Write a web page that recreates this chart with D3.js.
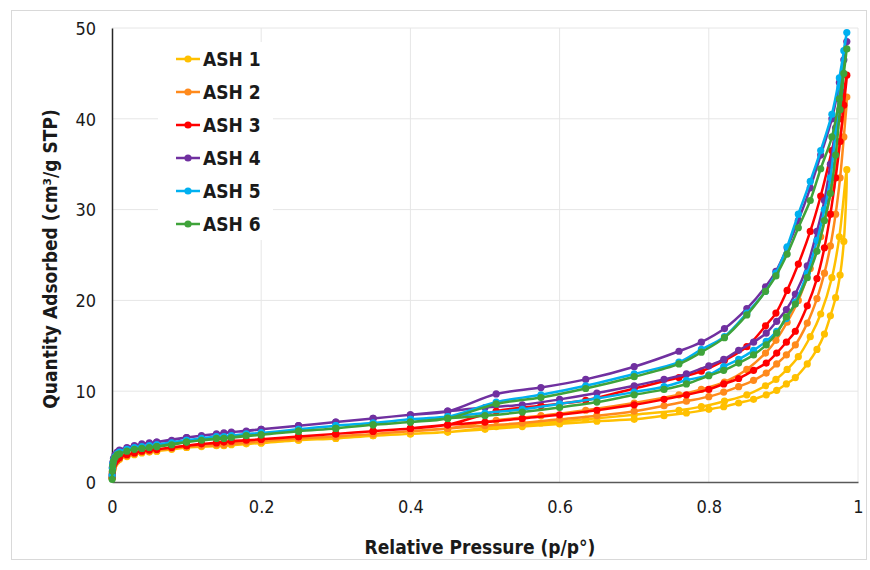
<!DOCTYPE html>
<html>
<head>
<meta charset="utf-8">
<script src="https://cdn.jsdelivr.net/npm/d3@7/dist/d3.min.js"></script>
<style>
  html, body { margin: 0; padding: 0; background: #fff; }
  svg { display: block; }
  text { font-family: "DejaVu Sans Condensed", "Open Sans", sans-serif; }
</style>
</head>
<body>
<svg id="chart" width="870" height="570"></svg>
<script>
// Series names and colours
const seriesNames = ["ASH 1", "ASH 2", "ASH 3", "ASH 4", "ASH 5", "ASH 6"];
const seriesColors = ["#FFC000", "#FF8A1C", "#FF0000", "#7030A0", "#00B0F0", "#3FA33A"];

// Relative pressures of the adsorption branch
const pAds = [0.0002, 0.0005, 0.001, 0.002, 0.004, 0.007, 0.01, 0.02, 0.03, 0.04, 0.05, 0.06, 0.08, 0.10,
  0.12, 0.14, 0.16, 0.18, 0.20, 0.25, 0.30, 0.35, 0.40, 0.45, 0.50, 0.55, 0.60, 0.65, 0.70, 0.74, 0.77,
  0.80, 0.82, 0.84, 0.86, 0.877, 0.891, 0.904, 0.916, 0.932, 0.945, 0.955, 0.963, 0.970, 0.976, 0.981, 0.985];

// Relative pressures of the desorption branch
const pDes = [0.985, 0.975, 0.965, 0.950, 0.936, 0.920, 0.905, 0.890, 0.876, 0.851, 0.821, 0.790, 0.760,
  0.700, 0.635, 0.575, 0.515, 0.450, 0.400, 0.350, 0.300, 0.250, 0.200, 0.150, 0.100, 0.060];

// Quantity adsorbed (cm3/g STP), adsorption branch
const ads1 = [0.4, 0.9, 1.3, 1.7, 2.0, 2.3, 2.5, 2.8, 3.0, 3.2, 3.3, 3.4, 3.6, 3.8, 3.9, 4.0, 4.1, 4.2, 4.3,
  4.6, 4.8, 5.1, 5.3, 5.5, 5.8, 6.1, 6.4, 6.7, 6.9, 7.3, 7.6, 8.0, 8.3, 8.7, 9.1, 9.6, 10.1, 10.8, 11.5,
  13.0, 14.6, 16.3, 18.3, 20.3, 22.8, 26.5, 34.4];
const ads2 = [0.5, 1.0, 1.4, 1.8, 2.1, 2.4, 2.6, 2.9, 3.1, 3.3, 3.4, 3.5, 3.7, 3.9, 4.0, 4.1, 4.3, 4.4, 4.5,
  4.8, 5.0, 5.3, 5.6, 5.9, 6.2, 6.5, 6.9, 7.3, 7.8, 8.4, 8.9, 9.4, 9.9, 10.5, 11.2, 12.0, 13.0, 14.0, 15.1,
  17.5, 20.2, 23.0, 26.0, 29.5, 33.5, 38.0, 42.4];
const ads3 = [0.5, 1.1, 1.5, 1.9, 2.2, 2.5, 2.7, 3.0, 3.2, 3.4, 3.5, 3.6, 3.8, 4.0, 4.2, 4.3, 4.5, 4.6, 4.7,
  5.0, 5.3, 5.6, 5.9, 6.3, 6.6, 7.0, 7.4, 7.9, 8.5, 9.1, 9.6, 10.2, 10.8, 11.4, 12.3, 13.1, 14.2, 15.4, 16.6,
  19.4, 22.4, 25.8, 29.5, 33.5, 37.5, 41.5, 44.8];
const ads4 = [0.8, 1.6, 2.1, 2.6, 3.0, 3.3, 3.5, 3.8, 4.0, 4.2, 4.3, 4.4, 4.6, 4.9, 5.1, 5.3, 5.5, 5.6, 5.8,
  6.2, 6.6, 7.0, 7.4, 7.8, 8.2, 8.5, 9.1, 9.8, 10.6, 11.3, 11.9, 12.8, 13.5, 14.5, 15.4, 16.4, 17.7, 19.0, 20.7,
  23.8, 27.6, 31.0, 35.0, 39.0, 43.0, 46.5, 48.5];
const ads5 = [0.7, 1.5, 2.0, 2.4, 2.8, 3.1, 3.3, 3.6, 3.8, 3.9, 4.0, 4.1, 4.3, 4.6, 4.8, 5.0, 5.1, 5.3, 5.4,
  5.8, 6.2, 6.5, 6.9, 7.2, 7.6, 8.0, 8.6, 9.2, 9.9, 10.5, 11.2, 11.8, 12.7, 13.5, 14.5, 15.5, 16.6, 18.0, 19.8,
  23.0, 26.6, 30.0, 33.5, 38.5, 43.5, 47.5, 49.5];
const ads6 = [0.3, 1.2, 1.8, 2.3, 2.7, 3.0, 3.1, 3.4, 3.6, 3.7, 3.8, 3.9, 4.1, 4.4, 4.6, 4.8, 4.9, 5.1, 5.2,
  5.6, 5.9, 6.3, 6.6, 7.0, 7.3, 7.7, 8.2, 8.8, 9.6, 10.2, 10.8, 11.7, 12.3, 13.1, 14.0, 15.1, 16.4, 18.2, 19.6,
  22.5, 25.4, 28.8, 31.8, 36.0, 41.0, 45.0, 47.7];

// Quantity adsorbed (cm3/g STP), desorption branch
const des1 = [34.4, 27.0, 22.5, 18.5, 16.0, 13.8, 12.4, 11.3, 10.6, 9.6, 8.9, 8.3, 7.9, 7.4, 6.9, 6.5, 6.1,
  5.5, 5.3, 5.1, 4.8, 4.6, 4.3, 4.0, 3.8, 3.4];
const des2 = [42.4, 37.5, 32.5, 27.0, 23.5, 20.0, 17.6, 15.6, 14.2, 12.4, 11.0, 10.2, 9.6, 8.7, 7.9, 7.3, 6.8,
  5.9, 5.6, 5.3, 5.0, 4.8, 4.5, 4.1, 3.9, 3.5];
const des3 = [44.8, 40.0, 36.5, 31.5, 27.6, 24.0, 21.1, 18.6, 17.2, 14.9, 13.4, 12.2, 11.5, 10.3, 9.0, 8.4, 7.8,
  6.3, 5.9, 5.6, 5.3, 5.0, 4.7, 4.4, 4.0, 3.6];
const des4 = [48.5, 44.0, 40.0, 36.0, 32.4, 28.8, 25.8, 23.2, 21.5, 19.1, 16.9, 15.4, 14.4, 12.7, 11.3, 10.4, 9.7,
  7.8, 7.4, 7.0, 6.6, 6.2, 5.8, 5.4, 4.9, 4.4];
const des5 = [49.5, 44.5, 40.5, 36.5, 33.1, 29.5, 25.9, 23.0, 21.0, 18.6, 16.0, 14.6, 13.2, 11.9, 10.6, 9.6, 8.8,
  7.2, 6.9, 6.5, 6.2, 5.8, 5.4, 5.0, 4.6, 4.1];
const des6 = [47.7, 42.2, 38.0, 34.5, 31.0, 28.0, 25.1, 22.7, 21.0, 18.4, 15.9, 14.3, 13.0, 11.6, 10.3, 9.3, 8.6,
  7.0, 6.6, 6.3, 5.9, 5.6, 5.2, 4.8, 4.4, 3.9];

const adsSets = [ads1, ads2, ads3, ads4, ads5, ads6];
const desSets = [des1, des2, des3, des4, des5, des6];

// Axis ticks
const xTicks = [0, 0.2, 0.4, 0.6, 0.8, 1];
const yTicks = [0, 10, 20, 30, 40, 50];

const svg = d3.select("#chart");
const margin = { left: 112, right: 12, top: 28, bottom: 88 };
const W = 870, H = 570;

const x = d3.scaleLinear().domain([0, 1]).range([margin.left, W - margin.right]);
const y = d3.scaleLinear().domain([0, 50]).range([H - margin.bottom, margin.top]);

// Outer chart frame
svg.append("rect")
  .attr("x", 11.5).attr("y", 10.5).attr("width", 855).attr("height", 549)
  .attr("fill", "#fff").attr("stroke", "#d9d9d9").attr("stroke-width", 1);

// Gridlines
const grid = svg.append("g");
grid.selectAll(".gx").data(xTicks.filter(d => d > 0)).join("line")
  .attr("x1", d => x(d)).attr("x2", d => x(d))
  .attr("y1", y(0)).attr("y2", y(50))
  .attr("stroke", "#e6e6e6").attr("stroke-width", 1);
grid.selectAll(".gy").data(yTicks.filter(d => d > 0)).join("line")
  .attr("x1", x(0)).attr("x2", x(1))
  .attr("y1", d => y(d)).attr("y2", d => y(d))
  .attr("stroke", "#e6e6e6").attr("stroke-width", 1);

// Axes
const xAxis = d3.axisBottom(x).tickValues(xTicks).tickSize(0).tickPadding(18)
  .tickFormat(d => d3.format("~g")(d));
const yAxis = d3.axisLeft(y).tickValues(yTicks).tickSize(0).tickPadding(16);

const gx = svg.append("g").attr("transform", `translate(0,${y(0)})`).call(xAxis);
const gy = svg.append("g").attr("transform", `translate(${x(0)},0)`).call(yAxis);
gx.select(".domain").attr("stroke", "#595959").attr("stroke-width", 1.5);
gy.select(".domain").attr("stroke", "#262626").attr("stroke-width", 1.5);
[gx, gy].forEach(g => g.selectAll("text")
  .attr("font-size", 18).attr("fill", "#1a1a1a")
  .style("font-family", '"DejaVu Sans Condensed", sans-serif'));
gy.selectAll("text").attr("dy", "0.35em");

// Axis titles
svg.append("text")
  .attr("x", 480).attr("y", 554)
  .attr("text-anchor", "middle")
  .attr("font-size", 19).attr("font-weight", "bold").attr("fill", "#1a1a1a")
  .text("Relative Pressure (p/p°)");
svg.append("text")
  .attr("transform", `translate(57,${(y(0) + y(50)) / 2 + 4}) rotate(-90)`)
  .attr("text-anchor", "middle")
  .attr("font-size", 19).attr("font-weight", "bold").attr("fill", "#1a1a1a")
  .text("Quantity Adsorbed (cm³/g STP)");

// Isotherm loops: adsorption followed by desorption
const line = d3.line()
  .x(d => x(d.p)).y(d => y(d.v))
  .curve(d3.curveCatmullRom.alpha(0.5));

const plot = svg.append("g");
seriesNames.forEach((name, i) => {
  const pts = pAds.map((p, k) => ({ p, v: adsSets[i][k] }))
    .concat(pDes.slice(1).map((p, k) => ({ p, v: desSets[i][k + 1] })));
  const g = plot.append("g");
  g.append("path").datum(pts)
    .attr("d", line)
    .attr("fill", "none")
    .attr("stroke", seriesColors[i])
    .attr("stroke-width", 2.5);
  g.selectAll("circle").data(pts).join("circle")
    .attr("cx", d => x(d.p)).attr("cy", d => y(d.v))
    .attr("r", 3.6)
    .attr("fill", seriesColors[i]);
});

// Legend
const legend = svg.append("g");
legend.append("rect")
  .attr("x", 158).attr("y", 42).attr("width", 115).attr("height", 198)
  .attr("fill", "#fff");
seriesNames.forEach((name, i) => {
  const cy = 59 + i * 33;
  const row = legend.append("g");
  row.append("line")
    .attr("x1", 176).attr("x2", 200).attr("y1", cy).attr("y2", cy)
    .attr("stroke", seriesColors[i]).attr("stroke-width", 2.5);
  row.append("circle").attr("cx", 188).attr("cy", cy).attr("r", 3.6)
    .attr("fill", seriesColors[i]);
  row.append("text")
    .attr("x", 203).attr("y", cy).attr("dy", "0.36em")
    .attr("font-size", 19).attr("font-weight", "bold").attr("fill", "#1a1a1a")
    .text(name);
});
</script>
</body>
</html>
